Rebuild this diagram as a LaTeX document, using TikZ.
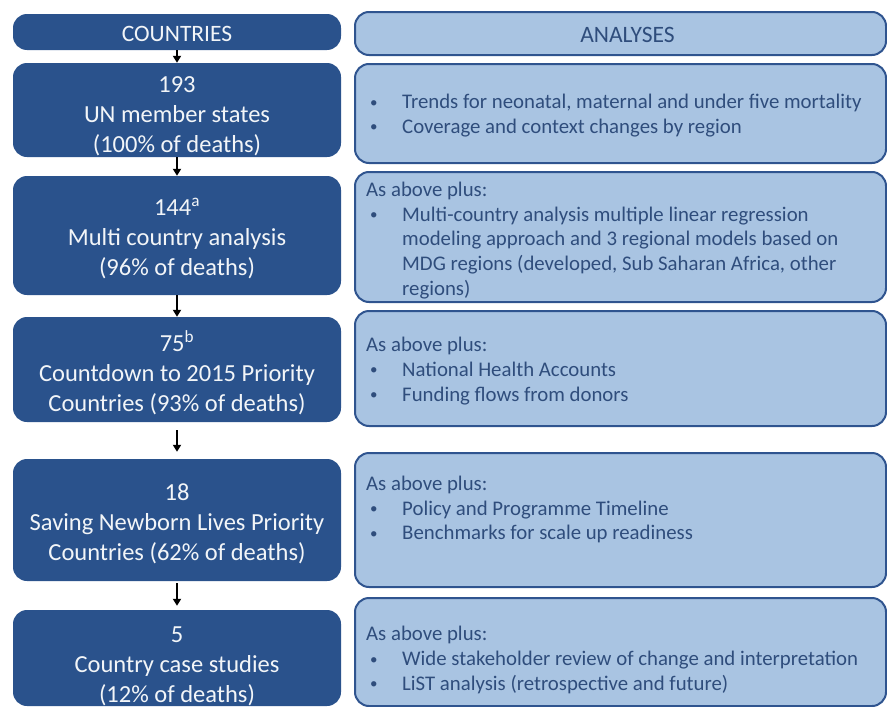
\documentclass[tikz,border=0pt]{standalone}
\usepackage{fontspec}
\setmainfont{Carlito}
\usetikzlibrary{arrows.meta}

\definecolor{navy}{RGB}{42,82,140}
\definecolor{pale}{RGB}{169,196,226}
\definecolor{edge}{RGB}{47,84,143}
\definecolor{ink}{RGB}{47,77,124}

% bullet with its hanging indent
\newcommand{\itm}{\makebox[36pt][l]{\hspace{4pt}\raisebox{1.5pt}{\fontsize{15}{15}\selectfont\textbullet}}}
\newcommand{\cont}{\hspace*{36pt}}
\newcommand{\sups}[1]{\smash{\textsuperscript{#1}}}
% extra room above the first line of a country box
\newcommand{\topgap}{\rule{0pt}{28pt}}

\tikzset{
  countrybox/.style={rectangle, rounded corners=14pt, fill=navy, draw=none,
    text=white!94!navy, minimum width=328pt, align=center, inner sep=0pt,
    font=\fontsize{24.5}{30}\selectfont},
  headleft/.style={countrybox, font=\fontsize{23.5}{26}\selectfont},
  analysisbox/.style={rectangle, rounded corners=14pt, fill=pale, draw=edge,
    line width=2pt, minimum width=531pt, inner sep=0pt},
  headright/.style={analysisbox, text=ink, font=\fontsize{23.5}{26}\selectfont},
  analysistext/.style={anchor=west, align=left, text=ink, inner sep=0pt,
    font=\fontsize{20.8}{24.6}\selectfont},
  arr/.style={-{Triangle[length=7pt,width=8pt]}, line width=2pt, black},
}

\begin{document}
\begin{tikzpicture}[x=1pt,y=-1pt]
\useasboundingbox (0,0) rectangle (887,707);

% left column: country sets
\node[headleft, minimum height=36pt] (hL) at (177,32) {\rule{0pt}{19pt}COUNTRIES};
\node[countrybox, minimum height=94pt] (L1) at (177,110)
  {\topgap 193\\UN member states\\(100\% of deaths)};
\node[countrybox, minimum height=119pt] (L2) at (177,235.5)
  {\rule{0pt}{24pt}144\sups{a}\\Multi country analysis\\(96\% of deaths)};
\node[countrybox, minimum height=105pt] (L3) at (177,369.5)
  {\topgap 75\sups{b}\\Countdown to 2015 Priority\\Countries (93\% of deaths)};
\node[countrybox, minimum height=122pt] (L4) at (177,520)
  {\rule{0pt}{25pt}18\\Saving Newborn Lives Priority\\Countries (62\% of deaths)};
\node[countrybox, minimum height=96pt] (L5) at (177,658)
  {\rule{0pt}{32pt}5\\Country case studies\\(12\% of deaths)};

% right column: analyses
\node[headright, minimum height=43pt] (hR) at (620.5,33.5) {\rule{0pt}{19pt}\hspace{14pt}ANALYSES};
\node[analysisbox, minimum height=99pt] (R1) at (620.5,113.5) {};
\node[analysisbox, minimum height=130pt] (R2) at (620.5,237) {};
\node[analysisbox, minimum height=115pt] (R3) at (620.5,368.5) {};
\node[analysisbox, minimum height=134pt] (R4) at (620.5,520) {};
\node[analysisbox, minimum height=108pt] (R5) at (620.5,652) {};

\node[analysistext] (t1) at (366,115.5)
  {\itm Trends for neonatal, maternal and under five mortality\\
   \itm Coverage and context changes by region};
\node[analysistext] (t2) at (366,240.5)
  {As above plus:\\
   \itm Multi-country analysis multiple linear regression\\
   \cont modeling approach and 3 regional models based on\\
   \cont MDG regions (developed, Sub Saharan Africa, other\\
   \cont regions)};
\node[analysistext] (t3) at (366,371)
  {As above plus:\\
   \itm National Health Accounts\\
   \itm Funding flows from donors};
\node[analysistext] (t4) at (366,509.5)
  {As above plus:\\
   \itm Policy and Programme Timeline\\
   \itm Benchmarks for scale up readiness};
\node[analysistext] (t5) at (366,660)
  {As above plus:\\
   \itm Wide stakeholder review of change and interpretation\\
   \itm LiST analysis (retrospective and future)};

% flow between country sets
\draw[arr] (hL) -- (L1);
\draw[arr] (L1) -- (L2);
\draw[arr] (L2) -- (L3);
\draw[arr, shorten <=8pt, shorten >=7pt] (L3) -- (L4);
\draw[arr, shorten <=2pt, shorten >=4pt] (L4) -- (L5);
\end{tikzpicture}
\end{document}
